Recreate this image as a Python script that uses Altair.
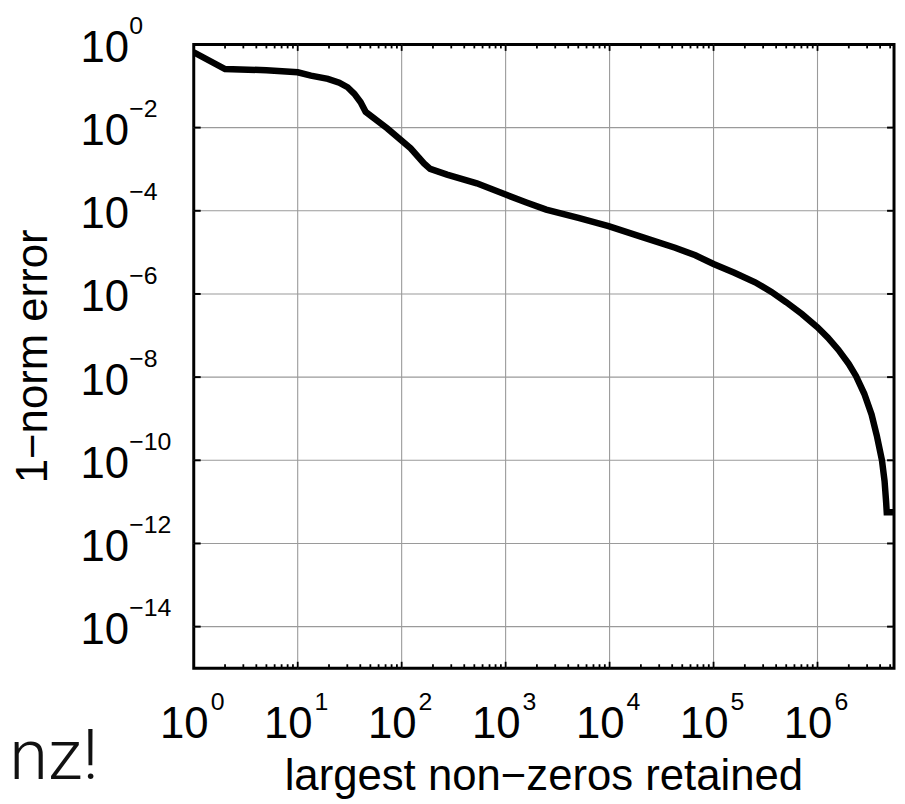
import altair as alt
import pandas as pd

# ---- data ----
nnz = [1, 2, 5, 10, 13.4, 19.5, 25.1, 30.2, 35.1, 40.3, 45.0, 72.9, 122, 164, 188,
       273, 528, 1000, 1585, 2455, 5012, 9772, 19950, 42660, 66830, 100000,
       158500, 251200, 360600, 501200, 707900, 1000000, 1259000, 1585000,
       1995000, 2344000, 2818000, 3311000, 3715000, 4169000, 4416000, 4571000,
       4634000, 5445000]
err = [0.646, 0.257, 0.240, 0.214, 0.178, 0.148, 0.120, 0.0933, 0.0646, 0.0407,
       0.0240, 0.00955, 0.00316, 0.00138, 0.00102, 7.41e-4, 4.57e-4, 2.45e-4,
       1.58e-4, 1.07e-4, 6.76e-5, 4.27e-5, 2.40e-5, 1.29e-5, 8.51e-6, 5.25e-6,
       3.24e-6, 1.91e-6, 1.12e-6, 6.31e-7, 3.31e-7, 1.58e-7, 8.91e-8, 4.57e-8,
       2.09e-8, 1.07e-8, 3.98e-9, 1.26e-9, 3.98e-10, 1.0e-10, 3.16e-11, 1.0e-11,
       5.62e-12, 5.62e-12]

x_tick_vals = [1, 10, 100, 1000, 10000, 100000, 1000000]
x_tick_exps = ["0", "1", "2", "3", "4", "5", "6"]
y_tick_vals = [1, 1e-2, 1e-4, 1e-6, 1e-8, 1e-10, 1e-12, 1e-14]
y_tick_exps = ["0", "\u22122", "\u22124", "\u22126", "\u22128", "\u221210", "\u221212", "\u221214"]
x_title = "largest non\u2212zeros retained"
y_title = "1\u2212norm error"
corner_text = "nz!"

X_MAX = 5.445e6
W, H = 705, 628
FONT = "Liberation Sans"
GRID = "#9a9a9a"

x_minor = [m * 10 ** d for d in range(0, 7) for m in range(2, 10) if m * 10 ** d <= X_MAX]
x_major = x_tick_vals[1:]
y_major = y_tick_vals[1:]

df = pd.DataFrame({"x": nnz, "y": err, "i": list(range(len(nnz)))})
df_xl = pd.DataFrame({"x": x_tick_vals, "e": x_tick_exps, "b": ["10"] * len(x_tick_vals)})
df_yl = pd.DataFrame({"y": y_tick_vals, "e": y_tick_exps, "b": ["10"] * len(y_tick_vals)})
df_xmin = pd.DataFrame({"x": x_minor})
df_xmaj = pd.DataFrame({"x": x_major})
df_ymaj = pd.DataFrame({"y": y_major})

xs = alt.Scale(type="log", domain=[1, X_MAX], nice=False)
ys = alt.Scale(type="log", domain=[1e-15, 1], nice=False)


def xrule(data, y0, y1, color="black", sw=1.8):
    return alt.Chart(data).mark_rule(color=color, strokeWidth=sw).encode(
        x=alt.X("x:Q", scale=xs, axis=None), y=alt.value(y0), y2=alt.value(y1))


def yrule(x0, x1, color="black", sw=2):
    return alt.Chart(df_ymaj).mark_rule(color=color, strokeWidth=sw).encode(
        y=alt.Y("y:Q", scale=ys, axis=None), x=alt.value(x0), x2=alt.value(x1))


grid = [xrule(df_xmaj, 0, H, GRID, 1.1), yrule(0, W, GRID, 1.1)]

line = alt.Chart(df).mark_line(color="black", strokeWidth=6.5, clip=True,
                               strokeJoin="miter").encode(
    x=alt.X("x:Q", scale=xs, axis=None),
    y=alt.Y("y:Q", scale=ys, axis=None),
    order="i:Q",
)

ticks = [
    xrule(df_xmin, H, H - 4), xrule(df_xmin, 0, 4),
    xrule(df_xmaj, H, H - 6.5), xrule(df_xmaj, 0, 6.5),
    yrule(0, 7), yrule(W - 7, W),
]

xl_base = alt.Chart(df_xl).mark_text(align="right", baseline="alphabetic", dx=15, fontSize=44,
                                     font=FONT, color="black").encode(
    x=alt.X("x:Q", scale=xs, axis=None), y=alt.value(H + 70), text="b:N")
xl_exp = alt.Chart(df_xl).mark_text(align="left", baseline="alphabetic", dx=17, fontSize=25,
                                    font=FONT, color="black").encode(
    x=alt.X("x:Q", scale=xs, axis=None), y=alt.value(H + 42), text="e:N")
yl_base = alt.Chart(df_yl).mark_text(align="right", baseline="alphabetic", dx=-65, dy=17.5,
                                     fontSize=44, font=FONT, color="black").encode(
    y=alt.Y("y:Q", scale=ys, axis=None), x=alt.value(0), text="b:N")
yl_exp = alt.Chart(df_yl).mark_text(align="left", baseline="alphabetic", dx=-65, dy=-10.5,
                                    fontSize=25, font=FONT, color="black").encode(
    y=alt.Y("y:Q", scale=ys, axis=None), x=alt.value(0), text="e:N")

xt = alt.Chart(pd.DataFrame({"t": [x_title]})).mark_text(
    align="center", baseline="alphabetic", fontSize=44, font=FONT, color="black").encode(
    text="t:N", x=alt.value(W / 2), y=alt.value(H + 123))
yt = alt.Chart(pd.DataFrame({"t": [y_title]})).mark_text(
    align="center", baseline="alphabetic", angle=270, fontSize=44, font=FONT, color="black").encode(
    text="t:N", x=alt.value(-148), y=alt.value(H / 2))
ct = alt.Chart(pd.DataFrame({"t": [corner_text]})).mark_text(
    align="right", baseline="alphabetic", fontSize=71, font="Roboto", fontWeight=300,
    color="#111111").encode(text="t:N", x=alt.value(-96), y=alt.value(740))

chart = alt.layer(*grid, line, *ticks, xl_base, xl_exp, yl_base, yl_exp, xt, yt, ct).properties(
    width=W, height=H,
    autosize=alt.AutoSizeParams(type="none"),
    padding={"left": 187, "top": 34, "right": 3, "bottom": 134},
).configure_view(stroke="black", strokeWidth=3)

chart.save("out.html", embed_options={"renderer": "svg", "actions": False})
